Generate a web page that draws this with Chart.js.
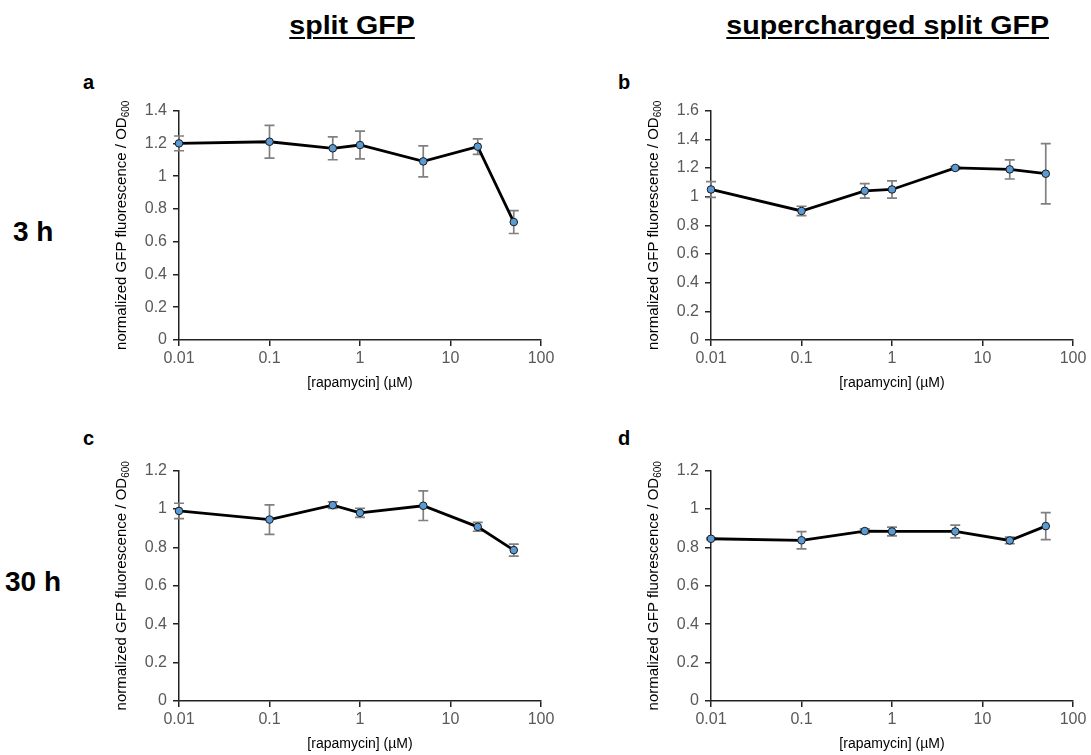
<!DOCTYPE html>
<html>
<head>
<meta charset="utf-8">
<script src="https://cdn.jsdelivr.net/npm/chart.js@4.4.0/dist/chart.umd.min.js"></script>
<style>
  html, body { margin: 0; padding: 0; background: #fff; }
  body { width: 1091px; height: 755px; position: relative; overflow: hidden; font-family: "Liberation Sans", Arial, sans-serif; }
  canvas { position: absolute; }
  .t { position: absolute; white-space: nowrap; color: #000; font-weight: bold; }
  .title { font-size: 26px; text-decoration: underline; text-decoration-thickness: 2px; text-underline-offset: 3px; transform-origin: center; }
  .row { font-size: 28px; }
  .letter { font-size: 20px; }
</style>
</head>
<body>
<div class="t title" id="tl" style="left:352px; top:10px;">split GFP</div>
<div class="t title" id="tr" style="left:887px; top:10px;">supercharged split GFP</div>
<div class="t row" style="left:13px; top:216px;">3 h</div>
<div class="t row" style="left:5px; top:566px;">30 h</div>
<div class="t letter" style="left:83px; top:71px;">a</div>
<div class="t letter" style="left:618px; top:71px;">b</div>
<div class="t letter" style="left:83px; top:427px;">c</div>
<div class="t letter" style="left:618px; top:427px;">d</div>
<canvas id="ca"></canvas>
<canvas id="cb"></canvas>
<canvas id="cc"></canvas>
<canvas id="cd"></canvas>
<script>
// ---- data ----
const concentrations = [0.01, 0.1, 0.5, 1, 5, 20, 50];      // rapamycin, µM
const xTickValues = [0.01, 0.1, 1, 10, 100];

const splitGFP_3h      = [1.20, 1.21, 1.17, 1.19, 1.09, 1.18, 0.72];
const splitGFP_3h_err  = [0.045, 0.10, 0.07, 0.085, 0.095, 0.047, 0.07];

const superGFP_3h      = [1.05, 0.90, 1.04, 1.05, 1.20, 1.19, 1.16];
const superGFP_3h_err  = [0.055, 0.033, 0.05, 0.06, 0.01, 0.067, 0.21];

const splitGFP_30h     = [0.99, 0.945, 1.02, 0.98, 1.017, 0.907, 0.786];
const splitGFP_30h_err = [0.04, 0.077, 0.017, 0.024, 0.077, 0.023, 0.031];

const superGFP_30h     = [0.845, 0.837, 0.885, 0.883, 0.883, 0.836, 0.911];
const superGFP_30h_err = [0.005, 0.045, 0.012, 0.023, 0.033, 0.017, 0.07];

const yMaxA = 1.4, yMaxB = 1.6, yMaxC = 1.2, yMaxD = 1.2;
const yStep = 0.2;

const yTitleMain = "normalized GFP fluorescence / OD";
const yTitleSub = "600";
const xTitle = "[rapamycin] (\u00B5M)";

// ---- layout ----
const FONT = '"Liberation Sans", Arial, sans-serif';
Chart.defaults.font.family = FONT;
const Y_W = 79, X_H = 60, PAD_T = 13, PAD_R = 19;

(function(){
  const tl = document.getElementById('tl'), tr = document.getElementById('tr');
  [tl, tr].forEach(el => {
    const w = el.offsetWidth;
    const c = parseFloat(el.style.left);
    el.style.left = (c - w/2) + 'px';
    el.style.transform = 'scaleX(1.1)';
  });
})();

const errorBarPlugin = {
  id: 'errbars',
  beforeDatasetsDraw(chart) {
    const ds = chart.data.datasets[0];
    const errs = ds.errors;
    const xs = chart.scales.x, ys = chart.scales.y;
    const ctx = chart.ctx;
    ctx.save();
    ctx.strokeStyle = '#808080';
    ctx.lineWidth = 1.7;
    ds.data.forEach((p, i) => {
      const px = xs.getPixelForValue(p.x);
      const y1 = ys.getPixelForValue(p.y + errs[i]);
      const y2 = ys.getPixelForValue(p.y - errs[i]);
      ctx.beginPath();
      ctx.moveTo(px, y1); ctx.lineTo(px, y2);
      ctx.moveTo(px - 5, y1); ctx.lineTo(px + 5, y1);
      ctx.moveTo(px - 5, y2); ctx.lineTo(px + 5, y2);
      ctx.stroke();
    });
    ctx.restore();
  }
};

const titlesPlugin = {
  id: 'axtitles',
  afterDraw(chart) {
    const ctx = chart.ctx;
    const a = chart.chartArea;
    ctx.save();
    ctx.fillStyle = '#000';
    ctx.font = '14px ' + FONT;
    ctx.textAlign = 'center';
    ctx.textBaseline = 'middle';
    ctx.fillText(xTitle, (a.left + a.right) / 2, a.bottom + 43);
    ctx.translate(a.left - 58, (a.top + a.bottom) / 2);
    ctx.rotate(-Math.PI / 2);
    ctx.font = '15px ' + FONT;
    const w1 = ctx.measureText(yTitleMain).width;
    ctx.font = '10px ' + FONT;
    const w2 = ctx.measureText(yTitleSub).width;
    const start = -(w1 + w2) / 2;
    ctx.textAlign = 'left';
    ctx.textBaseline = 'alphabetic';
    ctx.font = '15px ' + FONT;
    ctx.fillText(yTitleMain, start, 5);
    ctx.font = '10px ' + FONT;
    ctx.fillText(yTitleSub, start + w1, 8);
    ctx.restore();
  }
};

function makePanel(id, plot, values, errors, yMax) {
  const cv = document.getElementById(id);
  const W = (plot.right - plot.left) + Y_W + PAD_R;
  const H = (plot.bottom - plot.top) + PAD_T + X_H;
  cv.width = W; cv.height = H;
  cv.style.width = W + 'px'; cv.style.height = H + 'px';
  cv.style.left = (plot.left - Y_W) + 'px';
  cv.style.top = (plot.top - PAD_T) + 'px';
  const pts = concentrations.map((c, i) => ({ x: c, y: values[i] }));
  new Chart(cv, {
    type: 'line',
    data: {
      datasets: [{
        data: pts,
        errors: errors,
        borderColor: '#000',
        borderWidth: 2.8,
        pointRadius: 3.8,
        pointBackgroundColor: '#5b9bd5',
        pointBorderColor: '#1a1a1a',
        pointBorderWidth: 1,
        tension: 0,
        clip: false
      }]
    },
    options: {
      responsive: false,
      animation: false,
      devicePixelRatio: 1,
      layout: { padding: { top: PAD_T, right: PAD_R, left: 0, bottom: 0 } },
      plugins: { legend: { display: false }, tooltip: { enabled: false } },
      scales: {
        x: {
          type: 'logarithmic',
          min: 0.01, max: 100,
          afterBuildTicks(s) { s.ticks = xTickValues.map(v => ({ value: v, major: true })); },
          afterFit(s) { s.height = X_H; },
          ticks: {
            autoSkip: false, maxRotation: 0,
            color: '#595959', font: { size: 16 }, padding: 3,
            callback: v => String(v)
          },
          grid: { drawOnChartArea: false, drawTicks: true, tickLength: 6, color: '#222', lineWidth: 1.5 },
          border: { color: '#222', width: 1.5 }
        },
        y: {
          min: 0, max: yMax,
          afterFit(s) { s.width = Y_W; },
          ticks: {
            stepSize: yStep,
            color: '#595959', font: { size: 16 }, padding: 6,
            callback: v => String(Math.round(v * 10) / 10)
          },
          grid: { drawOnChartArea: false, drawTicks: true, tickLength: 6, color: '#222', lineWidth: 1.5 },
          border: { color: '#222', width: 1.5 }
        }
      }
    },
    plugins: [errorBarPlugin, titlesPlugin]
  });
}

makePanel('ca', { left: 179, right: 541, top: 108, bottom: 340 }, splitGFP_3h, splitGFP_3h_err, yMaxA);
makePanel('cb', { left: 711, right: 1073, top: 108, bottom: 340 }, superGFP_3h, superGFP_3h_err, yMaxB);
makePanel('cc', { left: 179, right: 541, top: 468, bottom: 701 }, splitGFP_30h, splitGFP_30h_err, yMaxC);
makePanel('cd', { left: 711, right: 1073, top: 468, bottom: 701 }, superGFP_30h, superGFP_30h_err, yMaxD);
</script>
</body>
</html>
